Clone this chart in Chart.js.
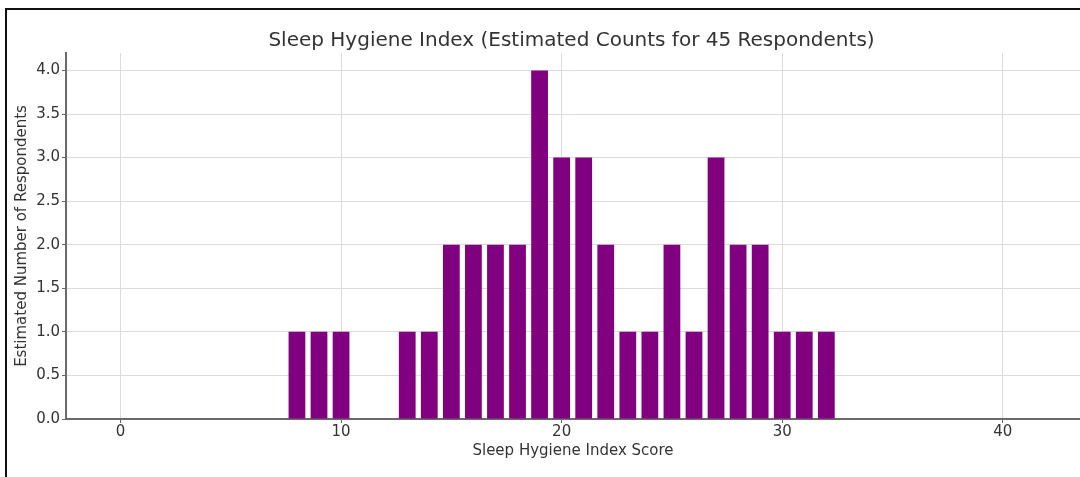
<!DOCTYPE html>
<html>
<head>
<meta charset="utf-8">
<script src="https://cdn.jsdelivr.net/npm/chart.js@4.4.1/dist/chart.umd.min.js"></script>
<style>
  html, body { margin: 0; padding: 0; background: #fff; overflow: hidden; }
  #wrap { position: relative; width: 1080px; height: 477px; }
</style>
</head>
<body>
<div id="wrap"><canvas id="c" width="1080" height="477"></canvas></div>
<script>
const scores = [8, 9, 10, 13, 14, 15, 16, 17, 18, 19, 20, 21, 22, 23, 24, 25, 26, 27, 28, 29, 30, 31, 32];
const counts = [1, 1, 1, 1, 1, 2, 2, 2, 2, 4, 3, 3, 2, 1, 1, 2, 1, 3, 2, 2, 1, 1, 1];
const xTicks = [0, 10, 20, 30, 40];
const yTicks = [0, 0.5, 1.0, 1.5, 2.0, 2.5, 3.0, 3.5, 4.0];

const titleText = 'Sleep Hygiene Index (Estimated Counts for 45 Respondents)';
const xTitle = 'Sleep Hygiene Index Score';
const yTitle = 'Estimated Number of Respondents';

const FONT = "'DejaVu Sans', sans-serif";
const TXT = '#333333';

const framePlugin = {
  id: 'frame',
  beforeDraw(chart) {
    const ctx = chart.ctx;
    ctx.save();
    ctx.fillStyle = '#ffffff';
    ctx.fillRect(0, 0, chart.width, chart.height);
    ctx.restore();
  },
  afterDraw(chart) {
    const ctx = chart.ctx;
    const ca = chart.chartArea;
    ctx.save();
    // title centred over the axes (whose right end lies at the picture edge)
    ctx.fillStyle = TXT;
    ctx.font = "20px 'DejaVu Sans', sans-serif";
    ctx.textAlign = 'center';
    ctx.textBaseline = 'middle';
    ctx.fillText(titleText, (ca.left + 1077) / 2, 41);
    // frame lines of the screenshot
    ctx.fillStyle = '#111111';
    ctx.fillRect(5, 8, chart.width - 5, 2);
    ctx.fillRect(5, 8, 2, chart.height - 8);
    ctx.restore();
  }
};

new Chart(document.getElementById('c'), {
  type: 'bar',
  data: {
    datasets: [{
      data: scores.map((s, i) => ({ x: s, y: counts[i] })),
      backgroundColor: '#800080',
      borderWidth: 0,
      barPercentage: 0.76,
      categoryPercentage: 1.0
    }]
  },
  options: {
    responsive: false,
    animation: false,
    devicePixelRatio: 1,
    layout: { padding: { left: 0, right: 0, top: 53, bottom: 0 } },
    plugins: {
      legend: { display: false },
      tooltip: { enabled: false },
      title: { display: false }
    },
    scales: {
      x: {
        type: 'linear',
        min: -2.47,
        max: 43.5,
        offset: false,
        afterBuildTicks(scale) { scale.ticks = xTicks.map(v => ({ value: v })); },
        afterFit(scale) { scale.height = 58; },
        ticks: {
          color: TXT,
          font: { family: FONT, size: 15 },
          padding: 0,
          maxRotation: 0,
          autoSkip: false
        },
        grid: {
          offset: false,
          color: '#dcdcdc',
          borderDash: [3, 2],
          lineWidth: 1,
          tickLength: 4,
          tickColor: '#666666',
          tickBorderDash: []
        },
        border: { display: true, color: '#6a6a6a', width: 2 },
        title: {
          display: true,
          text: xTitle,
          color: TXT,
          font: { family: FONT, size: 15 },
          padding: { top: 0, bottom: 17 }
        }
      },
      y: {
        type: 'linear',
        min: 0,
        max: 4.2,
        afterBuildTicks(scale) { scale.ticks = yTicks.map(v => ({ value: v })); },
        afterFit(scale) { scale.width = 66; },
        ticks: {
          color: TXT,
          font: { family: FONT, size: 15 },
          padding: 2,
          callback: v => Number(v).toFixed(1)
        },
        grid: {
          color: '#dcdcdc',
          borderDash: [3, 2],
          lineWidth: 1,
          tickLength: 4,
          tickColor: '#666666',
          tickBorderDash: []
        },
        border: { display: true, color: '#6a6a6a', width: 2 },
        title: {
          display: true,
          text: yTitle,
          color: TXT,
          font: { family: FONT, size: 15 },
          padding: { top: 13, bottom: 0 }
        }
      }
    }
  },
  plugins: [framePlugin]
});
</script>
</body>
</html>
